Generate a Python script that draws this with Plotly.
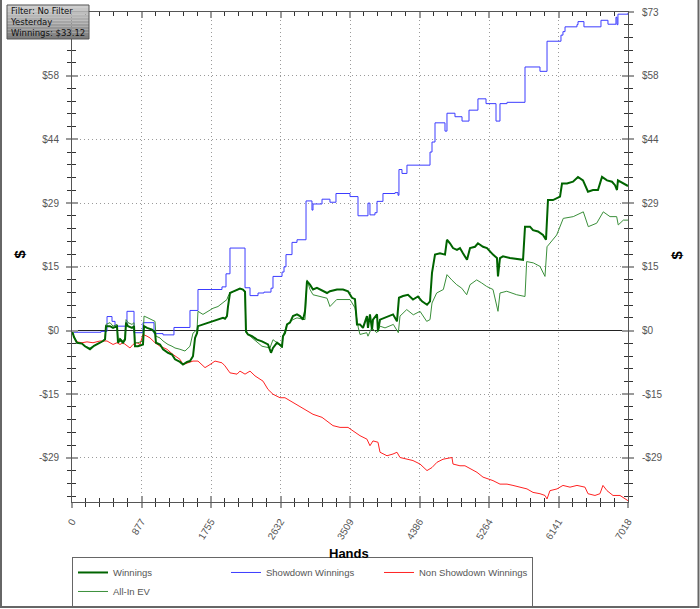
import plotly.graph_objects as go

# ---------------- data ----------------
winnings_hands = [0, 25, 63, 126, 164, 227, 278, 316, 353, 391, 417, 429, 480, 518, 568, 581, 606, 644, 669, 682,
                  707, 757, 783, 795, 833, 896, 909, 947, 1010, 1048, 1060, 1111, 1149, 1212, 1262, 1300, 1363, 1401,
                  1452, 1489, 1527, 1553, 1578, 1590, 1653, 1717, 1780, 1843, 1906, 1931, 1956, 1969, 1994, 2032,
                  2083, 2120, 2158, 2184, 2196, 2221, 2272, 2335, 2398, 2436, 2474, 2512, 2537, 2588, 2625, 2651,
                  2663, 2688, 2714, 2751, 2789, 2840, 2878, 2916, 2941, 2966, 3004, 3042, 3092, 3130, 3168, 3219,
                  3256, 3294, 3345, 3421, 3484, 3534, 3572, 3597, 3635, 3673, 3723, 3736, 3761, 3787, 3799, 3850,
                  3862, 3888, 3951, 4014, 4052, 4102, 4127, 4178, 4241, 4304, 4367, 4418, 4481, 4519, 4544, 4582,
                  4645, 4708, 4733, 4771, 4809, 4859, 4897, 4935, 4986, 5024, 5087, 5124, 5188, 5238, 5276, 5314,
                  5364, 5377, 5402, 5440, 5528, 5617, 5693, 5718, 5781, 5819, 5882, 5945, 5983, 6008, 6071, 6160,
                  6185, 6248, 6324, 6387, 6450, 6513, 6576, 6639, 6690, 6753, 6816, 6854, 6879, 6891, 6955, 7018]
winnings_vals = [0, -1.5, -2.8, -3.0, -3.6, -4.3, -3.5, -3.2, -2.8, -2.4, -2.0, 1.0, 1.0, 0.6, 1.0, -2.8, -2.1, -2.8,
                 -2.1, 1.8, 1.0, 0.6, 1.0, -3.6, -3.6, -3.2, 1.0, 0.6, 0.2, -0.5, -2.8, -3.2, -4.3, -5.1, -5.5, -6.6,
                 -7.2, -7.8, -7.2, -7.0, -5.9, -1.7, -0.6, 1.0, 1.4, 1.8, 2.1, 2.5, 2.9, 2.7, 3.3, 5.5, 8.6, 8.9, 9.4,
                 9.6, 9.4, 8.9, -0.2, -0.9, -1.3, -2.1, -2.5, -2.8, -3.2, -5.1, -4.0, -2.8, -3.2, -3.6, -1.3, -0.6,
                 1.4, 1.8, 3.3, 3.7, 3.3, 2.5, 4.4, 11.3, 10.5, 9.4, 9.8, 9.4, 9.0, 8.6, 9.0, 9.2, 9.4, 9.4, 9.0, 7.5,
                 7.2, 1.4, 1.4, 0.6, 3.3, 0.6, 3.7, 0.2, 2.5, 3.7, -0.2, 2.5, 2.9, 3.3, 3.7, 2.1, 7.5, 7.9, 8.2, 7.1,
                 7.8, 6.7, 5.9, 6.7, 13.2, 17.4, 17.7, 17.4, 20.8, 20.0, 18.9, 18.5, 18.9, 17.7, 16.2, 18.9, 19.2,
                 20.0, 19.2, 18.9, 18.1, 17.4, 16.6, 12.4, 16.6, 17.0, 16.6, 16.4, 16.2, 23.8, 23.8, 23.0, 22.7, 21.9,
                 20.8, 29.9, 29.9, 30.7, 33.7, 33.7, 34.1, 35.2, 34.4, 31.8, 32.2, 32.2, 35.2, 34.4, 34.1, 33.3, 32.2,
                 34.4, 33.7, 33.12]

allin_hands = [0, 25, 63, 126, 164, 227, 278, 316, 353, 391, 417, 429, 480, 518, 568, 581, 606, 644, 669, 682, 707,
               757, 783, 795, 833, 896, 909, 947, 1010, 1048, 1060, 1111, 1149, 1212, 1262, 1300, 1363, 1426, 1489,
               1527, 1578, 1590, 1653, 1717, 1780, 1843, 1906, 1956, 1969, 1994, 2032, 2083, 2120, 2158, 2184, 2196,
               2247, 2335, 2398, 2449, 2499, 2537, 2588, 2651, 2663, 2714, 2789, 2840, 2916, 2941, 2966, 3004, 3042,
               3130, 3219, 3256, 3341, 3509, 3572, 3614, 3635, 3720, 3736, 3783, 3846, 3888, 3951, 4056, 4119, 4140,
               4225, 4308, 4393, 4477, 4519, 4544, 4603, 4687, 4733, 4793, 4856, 4919, 4982, 5024, 5108, 5171, 5234,
               5314, 5377, 5402, 5487, 5613, 5718, 5739, 5823, 5907, 5970, 5996, 6118, 6201, 6327, 6454, 6517, 6623,
               6706, 6791, 6875, 6895, 6959, 7018]
allin_vals = [0, -1.5, -2.8, -3.0, -3.6, -4.0, -3.5, -3.2, -2.8, -2.4, -2.0, 1.4, 1.8, 1.0, 1.4, -2.1, -1.7, -2.4,
              -1.7, 2.5, 1.8, 1.4, 1.8, -2.8, -2.8, -2.4, 3.3, 3.0, 2.5, 2.1, -1.3, -1.7, -2.4, -3.2, -3.6, -4.0,
              -4.3, -4.7, -3.6, -0.6, 0.2, 4.4, 3.7, 4.4, 5.1, 5.5, 6.3, 7.1, 7.8, 8.6, 8.9, 9.4, 9.6, 9.4, 8.9,
              -0.5, -1.3, -2.8, -3.6, -3.8, -4.0, -2.1, -2.8, -4.0, -1.3, 1.4, 2.5, 2.9, 2.5, 2.5, 11.6, 9.4, 8.2,
              7.8, 7.4, 5.5, 7.1, 7.1, 5.2, 0.6, -0.9, -0.5, -1.3, 0.6, -0.5, 1.0, 0.6, 1.4, -0.5, 3.3, 4.8, 3.6,
              4.4, 2.1, 2.5, 6.3, 8.6, 9.4, 12.8, 11.6, 10.5, 9.7, 8.2, 10.5, 11.6, 10.9, 10.1, 9.4, 4.4, 8.6, 9.0,
              8.2, 7.8, 15.8, 15.5, 14.7, 12.4, 19.2, 21.9, 25.7, 26.1, 27.2, 23.8, 24.6, 27.2, 26.1, 26.1, 24.2,
              25.3, 25.3]

showdown_hands = [0, 25, 366, 442, 505, 543, 694, 783, 896, 1035, 1149, 1287, 1489, 1590, 1893, 1944, 1994, 2184,
                  2247, 2348, 2423, 2512, 2537, 2651, 2676, 2701, 2777, 2840, 2954, 3029, 3042, 3156, 3256, 3332,
                  3509, 3610, 3736, 3761, 3824, 3850, 3925, 4077, 4115, 4127, 4165, 4228, 4519, 4544, 4582, 4708,
                  4733, 4834, 4923, 5011, 5124, 5226, 5352, 5402, 5491, 5718, 5907, 5996, 6172, 6197, 6223, 6374,
                  6387, 6462, 6677, 6765, 6866, 6879, 6891, 7018]
showdown_vals = [0, -0.4, -0.2, 3.2, 2.1, 1.0, 4.4, -0.5, 1.8, -0.7, -1.0, 0.7, 4.6, 9.4, 10.0, 13.0, 18.9, 9.8,
                 8.0, 8.6, 8.8, 9.7, 12.4, 13.4, 14.6, 17.4, 20.2, 20.8, 29.7, 27.6, 29.0, 30.1, 29.4, 31.4, 30.7,
                 26.3, 29.2, 26.5, 27.0, 29.6, 31.4, 31.6, 31.0, 36.9, 36.0, 37.9, 40.9, 43.2, 47.6, 45.7, 49.8,
                 49.0, 48.0, 50.5, 53.1, 52.0, 48.0, 52.0, 52.3, 60.4, 59.4, 66.3, 67.7, 68.5, 69.6, 70.1, 70.8,
                 69.6, 71.1, 70.2, 71.8, 70.1, 72.5, 72.8]

nonshow_hands = [0, 25, 63, 126, 189, 265, 353, 442, 480, 518, 568, 606, 644, 694, 732, 770, 820, 858, 896, 947, 985,
                 1048, 1111, 1199, 1275, 1363, 1401, 1464, 1527, 1590, 1679, 1742, 1805, 1893, 1931, 1994, 2083,
                 2120, 2184, 2247, 2310, 2411, 2474, 2537, 2625, 2688, 2789, 2878, 2966, 3042, 3156, 3219, 3294,
                 3383, 3484, 3547, 3635, 3723, 3761, 3799, 3862, 3888, 3976, 4052, 4102, 4140, 4228, 4304, 4393,
                 4481, 4544, 4607, 4683, 4796, 4809, 4897, 4960, 5024, 5112, 5188, 5251, 5314, 5402, 5491, 5566,
                 5655, 5743, 5819, 5907, 5970, 5996, 6033, 6122, 6197, 6286, 6374, 6475, 6513, 6601, 6664, 6702,
                 6753, 6829, 6917, 6980, 7018]
nonshow_vals = [0, -1.5, -2.6, -2.8, -2.6, -2.8, -2.4, -2.4, -2.8, -3.2, -2.8, -3.2, -2.8, -3.6, -4.0, -3.2, -2.8,
                -3.2, -0.9, -1.3, -1.7, -2.8, -3.6, -4.3, -5.5, -6.6, -7.8, -7.4, -7.0, -7.0, -8.5, -7.8, -7.0,
                -7.4, -8.1, -9.7, -10.0, -9.3, -10.0, -9.3, -10.4, -11.6, -13.5, -14.6, -15.4, -15.4, -16.5, -17.6,
                -18.4, -19.2, -19.9, -20.7, -21.8, -22.2, -22.2, -23.0, -24.1, -24.9, -26.4, -25.3, -25.6, -27.9,
                -28.7, -28.3, -27.9, -29.1, -29.5, -29.8, -30.6, -32.1, -31.4, -30.2, -29.5, -29.1, -30.6, -31.0,
                -31.0, -31.7, -32.5, -33.6, -34.0, -34.4, -35.2, -35.2, -35.5, -35.9, -36.3, -37.1, -37.4, -37.8,
                -38.6, -36.7, -36.3, -35.5, -35.9, -35.5, -35.9, -37.4, -37.8, -37.4, -35.5, -36.7, -37.8, -37.8,
                -38.6, -39.0]

x_tickvals = [0, 877.25, 1754.5, 2631.75, 3509, 4386.25, 5263.5, 6140.75, 7018]
x_ticktext = ["0", "877", "1755", "2632", "3509", "4386", "5264", "6141", "7018"]
y_tickvals = [-29.2, -14.6, 0, 14.6, 29.2, 43.8, 58.4, 73]
y_ticktext_left = ["-$29", "-$15", "$0", "$15", "$29", "$44", "$58", ""]   # top-left label hidden by info box
y_ticktext_right = ["-$29", "-$15", "$0", "$15", "$29", "$44", "$58", "$73"]
x_range = [0, 7018]
y_range = [-39.3, 73]

# ---------------- figure ----------------
fig = go.Figure()
fig.add_trace(go.Scatter(x=showdown_hands, y=showdown_vals, mode="lines", name="Showdown Winnings",
                         line=dict(color="#3c3cff", width=1, shape="hv"), legendrank=2))
fig.add_trace(go.Scatter(x=nonshow_hands, y=nonshow_vals, mode="lines", name="Non Showdown Winnings",
                         line=dict(color="#ff2222", width=1), legendrank=3, legendwidth=108))
fig.add_trace(go.Scatter(x=allin_hands, y=allin_vals, mode="lines", name="All-In EV",
                         line=dict(color="#3a8f3a", width=1), legendrank=4))
fig.add_trace(go.Scatter(x=winnings_hands, y=winnings_vals, mode="lines", name="Winnings",
                         line=dict(color="#006400", width=2), legendrank=1))
# helper (empty) traces so the overlay axes exist
fig.add_trace(go.Scatter(x=[], y=[], xaxis="x2", yaxis="y", showlegend=False, hoverinfo="skip"))
fig.add_trace(go.Scatter(x=[], y=[], xaxis="x", yaxis="y2", showlegend=False, hoverinfo="skip"))
fig.add_trace(go.Scatter(x=[], y=[], xaxis="x", yaxis="y3", showlegend=False, hoverinfo="skip"))

tick_font = dict(family="Liberation Sans, Arial, sans-serif", size=10, color="#555555")
grid_dash = "1px,3px"

fig.update_layout(
    width=700, height=609,
    margin=dict(l=72, r=72, t=12, b=107, autoexpand=False),
    paper_bgcolor="white", plot_bgcolor="white",
    showlegend=True,
    xaxis=dict(range=x_range, tickmode="array", tickvals=x_tickvals, ticktext=x_ticktext, tickangle=-58,
               ticks="outside", ticklen=5, tickwidth=2, tickcolor="#9a9a9a",
               showline=True, linecolor="#555555", linewidth=1, mirror=True,
               showgrid=True, gridcolor="#9a9a9a", griddash=grid_dash, gridwidth=1, zeroline=False,
               tickfont=tick_font, ticklabelstandoff=4, automargin=False,
               minor=dict(tickmode="linear", tick0=0, dtick=175.45, ticks="outside", ticklen=4,
                          tickcolor="#333333", tickwidth=1, showgrid=False)),
    xaxis2=dict(overlaying="x", anchor="y", side="bottom", range=x_range, tickmode="array",
                tickvals=x_tickvals, ticks="inside", ticklen=6, tickwidth=2, tickcolor="#9a9a9a",
                showticklabels=False, showgrid=False, zeroline=False, showline=False, mirror="ticks",
                automargin=False,
                minor=dict(tickmode="linear", tick0=0, dtick=175.45, ticks="inside", ticklen=4,
                           tickcolor="#333333", tickwidth=1, showgrid=False)),
    yaxis=dict(range=y_range, tickmode="array", tickvals=y_tickvals, ticktext=y_ticktext_left,
               ticks="outside", ticklen=5, tickwidth=2, tickcolor="#9a9a9a",
               showline=True, linecolor="#555555", linewidth=1,
               showgrid=True, gridcolor="#9a9a9a", griddash=grid_dash, gridwidth=1,
               zeroline=True, zerolinecolor="#222222", zerolinewidth=1,
               tickfont=tick_font, ticklabelstandoff=5, automargin=False,
               minor=dict(tickmode="linear", tick0=0, dtick=2.92, ticks="outside", ticklen=4,
                          tickcolor="#333333", tickwidth=1, showgrid=False)),
    yaxis2=dict(overlaying="y", anchor="x", side="right", range=y_range, tickmode="array",
                tickvals=y_tickvals, ticktext=y_ticktext_right,
                ticks="outside", ticklen=5, tickwidth=2, tickcolor="#9a9a9a",
                showline=True, linecolor="#555555", linewidth=1,
                showgrid=False, zeroline=False, tickfont=tick_font, ticklabelstandoff=6, automargin=False,
                minor=dict(tickmode="linear", tick0=0, dtick=2.92, ticks="outside", ticklen=4,
                           tickcolor="#333333", tickwidth=1, showgrid=False)),
    yaxis3=dict(overlaying="y", anchor="x", side="left", range=y_range, tickmode="array",
                tickvals=y_tickvals, ticks="inside", ticklen=6, tickwidth=2, tickcolor="#9a9a9a",
                showticklabels=False, showgrid=False, zeroline=False, showline=False, mirror="ticks",
                automargin=False,
                minor=dict(tickmode="linear", tick0=0, dtick=2.92, ticks="inside", ticklen=4,
                           tickcolor="#333333", tickwidth=1, showgrid=False)),
    legend=dict(orientation="h", x=0, xanchor="left", y=-0.1122, yanchor="top",
                entrywidth=98, entrywidthmode="pixels", itemwidth=30,
                bordercolor="#666666", borderwidth=1, bgcolor="white",
                font=dict(family="Liberation Sans, Arial, sans-serif", size=9.5, color="#555555"),
                tracegroupgap=0),
)

# outer frame of the image
fig.add_shape(type="rect", xref="paper", yref="paper", x0=-0.1277, x1=1.1268, y0=-0.2143, y1=1.2,
              line=dict(color="#666666", width=2), fillcolor="rgba(0,0,0,0)", layer="above")

# info box: vertical grey gradient made of thin bands, then a border
box_x0, box_x1, box_top, box_bot = -0.1169, 0.0306, 1.0143, 0.9449
band_greys = [206, 198, 190, 182, 174, 166, 158, 150, 142, 134, 126]
n_b = len(band_greys)
for i, g in enumerate(band_greys):
    y_hi = box_top - (box_top - box_bot) * i / n_b
    y_lo = box_top - (box_top - box_bot) * (i + 1) / n_b
    fig.add_shape(type="rect", xref="paper", yref="paper", x0=box_x0, x1=box_x1, y0=y_lo, y1=y_hi,
                  line=dict(width=0), fillcolor=f"rgb({g},{g},{g})", layer="above")
fig.add_shape(type="rect", xref="paper", yref="paper", x0=box_x0, x1=box_x1, y0=box_bot, y1=box_top,
              line=dict(color="#555555", width=1), fillcolor="rgba(0,0,0,0)", layer="above")
fig.add_annotation(xref="paper", yref="paper", x=box_x0 + 0.001, y=box_top + 0.002, xanchor="left", yanchor="top",
                   align="left", showarrow=False,
                   text="Filter: No Filter<br>Yesterday<br>Winnings: $33.12",
                   font=dict(family="DejaVu Sans, Verdana, sans-serif", size=8.5, color="#111111"),
                   borderpad=1)

# axis titles
fig.add_annotation(xref="paper", yref="paper", x=-0.0935, y=0.505, xanchor="center", yanchor="middle",
                   showarrow=False, textangle=-90,
                   text="<b>$</b>", font=dict(family="Liberation Sans, Arial, sans-serif", size=15, color="black"))
fig.add_annotation(xref="paper", yref="paper", x=1.0881, y=0.505, xanchor="center", yanchor="middle",
                   showarrow=False, textangle=-90,
                   text="<b>$</b>", font=dict(family="Liberation Sans, Arial, sans-serif", size=15, color="black"))
fig.add_annotation(xref="paper", yref="paper", x=0.498, y=-0.1041, xanchor="center", yanchor="middle",
                   showarrow=False,
                   text="<b>Hands</b>", font=dict(family="Liberation Sans, Arial, sans-serif", size=13, color="black"))

fig.write_html("out.html", config={"displayModeBar": False},
               post_script="document.body.style.margin='0';document.body.style.padding='0';")
